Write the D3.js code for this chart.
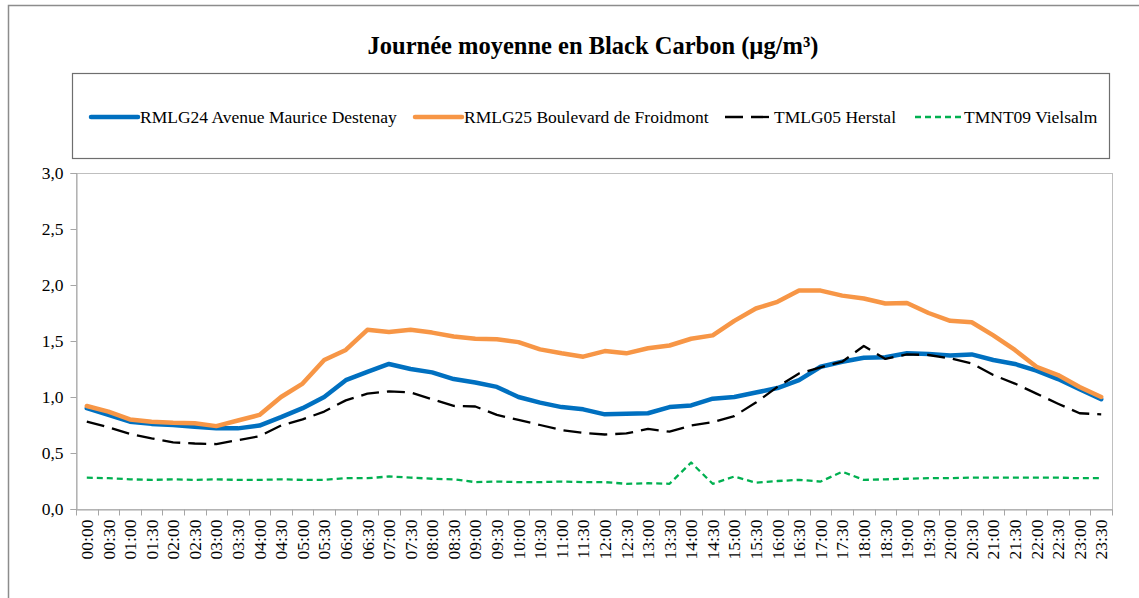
<!DOCTYPE html>
<meta charset="utf-8">
<style>
  body { margin: 0; background: #fff; }
  svg { display: block; }
  svg text { font-family: "Liberation Serif", "Times New Roman", serif; }
</style>
<body>
<div id="chart"></div>
<script src="https://cdn.jsdelivr.net/npm/d3@7"></script>
<script>
// half-hour slots
const times = ["00:00","00:30","01:00","01:30","02:00","02:30","03:00","03:30","04:00","04:30",
  "05:00","05:30","06:00","06:30","07:00","07:30","08:00","08:30","09:00","09:30",
  "10:00","10:30","11:00","11:30","12:00","12:30","13:00","13:30","14:00","14:30",
  "15:00","15:30","16:00","16:30","17:00","17:30","18:00","18:30","19:00","19:30",
  "20:00","20:30","21:00","21:30","22:00","22:30","23:00","23:30"];

const rmlg24 = [0.90,0.84,0.78,0.76,0.75,0.735,0.72,0.72,0.745,0.82,
  0.90,1.00,1.15,1.225,1.295,1.25,1.22,1.16,1.13,1.09,
  1.00,0.95,0.91,0.89,0.845,0.85,0.855,0.91,0.925,0.985,
  1.00,1.04,1.08,1.15,1.27,1.315,1.35,1.355,1.39,1.385,
  1.37,1.38,1.33,1.295,1.235,1.16,1.07,0.98];

const rmlg25 = [0.92,0.87,0.80,0.78,0.77,0.765,0.74,0.79,0.84,1.00,
  1.12,1.33,1.42,1.60,1.58,1.60,1.575,1.54,1.52,1.515,
  1.49,1.425,1.39,1.36,1.41,1.39,1.435,1.46,1.52,1.55,
  1.68,1.79,1.85,1.95,1.95,1.905,1.88,1.835,1.84,1.75,
  1.68,1.667,1.55,1.42,1.27,1.196,1.09,1.00];

const tmlg05 = [0.78,0.73,0.67,0.63,0.595,0.585,0.58,0.615,0.65,0.745,
  0.80,0.87,0.97,1.03,1.05,1.04,0.98,0.92,0.915,0.84,
  0.795,0.75,0.705,0.68,0.665,0.675,0.715,0.69,0.745,0.775,
  0.83,0.95,1.09,1.21,1.265,1.315,1.455,1.34,1.38,1.375,
  1.345,1.30,1.196,1.12,1.03,0.94,0.855,0.845];

const tmnt09 = [0.28,0.275,0.265,0.26,0.265,0.26,0.265,0.26,0.26,0.265,
  0.26,0.26,0.275,0.275,0.29,0.28,0.27,0.265,0.24,0.245,
  0.24,0.24,0.245,0.24,0.24,0.225,0.23,0.225,0.415,0.225,
  0.29,0.235,0.25,0.26,0.245,0.333,0.26,0.265,0.27,0.275,
  0.275,0.28,0.28,0.28,0.28,0.28,0.275,0.275];

const yTicks = [0, 0.5, 1, 1.5, 2, 2.5, 3];

const series = [
  {name: "RMLG24 Avenue Maurice Destenay", values: rmlg24, color: "#0070C0", width: 4.5, dash: null, lx: 91, lw: 47},
  {name: "RMLG25 Boulevard de Froidmont", values: rmlg25, color: "#F79646", width: 4.5, dash: null, lx: 415, lw: 47},
  {name: "TMLG05 Herstal", values: tmlg05, color: "#000000", width: 2.3, dash: "18,8", lx: 725, lw: 47},
  {name: "TMNT09 Vielsalm", values: tmnt09, color: "#00B050", width: 2.3, dash: "6,4", lx: 915, lw: 47}
];

const width = 1139, height = 598;
const plot = {left: 76, right: 1112, top: 173, bottom: 509};
const serif = "Liberation Serif, Times New Roman, serif";

const svg = d3.select("#chart").append("svg")
    .attr("width", width)
    .attr("height", height);

// outer chart frame (runs past the picture edges)
svg.append("rect")
    .attr("x", 8.5).attr("y", 5.5)
    .attr("width", 1300).attr("height", 800)
    .attr("fill", "none").attr("stroke", "#8c8c8c").attr("stroke-width", 1.5);

svg.append("text")
    .attr("x", 593).attr("y", 54)
    .attr("text-anchor", "middle")
    .attr("font-family", serif)
    .attr("font-size", 24.5)
    .attr("font-weight", "bold")
    .text("Journée moyenne en Black Carbon (µg/m³)");

// legend box
svg.append("rect")
    .attr("x", 72.5).attr("y", 73.5)
    .attr("width", 1037).attr("height", 85)
    .attr("fill", "none").attr("stroke", "#6e6e6e").attr("stroke-width", 1.2);

const leg = svg.append("g").selectAll("g")
  .data(series)
  .join("g");
leg.append("line")
    .attr("x1", d => d.lx).attr("x2", d => d.lx + d.lw)
    .attr("y1", 117).attr("y2", 117)
    .attr("stroke", d => d.color)
    .attr("stroke-width", d => d.width)
    .attr("stroke-dasharray", d => d.dash)
    .attr("stroke-linecap", d => d.dash ? "butt" : "round");
leg.append("text")
    .attr("x", d => d.lx + d.lw + 2).attr("y", 123)
    .attr("font-family", serif)
    .attr("font-size", 17.5)
    .text(d => d.name);

const x = d3.scaleBand().domain(times).range([plot.left, plot.right]).padding(0);
const y = d3.scaleLinear().domain([0, 3]).range([plot.bottom, plot.top]);

// plot area border
svg.append("rect")
    .attr("x", plot.left + 0.5).attr("y", plot.top + 0.5)
    .attr("width", plot.right - plot.left).attr("height", plot.bottom - plot.top)
    .attr("fill", "none").attr("stroke", "#bfbfbf");

const yAxis = svg.append("g")
    .attr("transform", `translate(${plot.left + 0.5},0)`)
    .call(d3.axisLeft(y).tickValues(yTicks).tickSize(6).tickPadding(7)
      .tickFormat(d => d.toFixed(1).replace(".", ",")));
yAxis.attr("font-family", serif);
yAxis.selectAll("path, line").attr("stroke", "#a6a6a6");
yAxis.selectAll("text").attr("font-size", 17.5).attr("fill", "#000");

const xAxis = svg.append("g")
    .attr("transform", `translate(0,${plot.bottom + 0.5})`)
    .call(d3.axisBottom(x).tickSize(0).tickPadding(0).tickSizeOuter(0));
xAxis.attr("font-family", serif);
xAxis.select(".domain").attr("stroke", "#a6a6a6");
xAxis.selectAll(".tick text")
    .attr("font-size", 17.5).attr("fill", "#000")
    .attr("text-anchor", "end")
    .attr("dy", "0.35em")
    .attr("transform", "translate(0,10) rotate(-90)")
    .attr("x", 0).attr("y", 0);
// tick marks on band boundaries
xAxis.append("g").selectAll("line")
  .data(times.concat([null]))
  .join("line")
    .attr("x1", (d, i) => Math.round(plot.left + i * x.step()) + 0.5)
    .attr("x2", (d, i) => Math.round(plot.left + i * x.step()) + 0.5)
    .attr("y1", 0).attr("y2", 6)
    .attr("stroke", "#a6a6a6");

const line = d3.line()
    .x((d, i) => x(times[i]) + x.bandwidth() / 2)
    .y(d => y(d));

svg.append("g").selectAll("path")
  .data(series)
  .join("path")
    .attr("d", d => line(d.values))
    .attr("fill", "none")
    .attr("stroke", d => d.color)
    .attr("stroke-width", d => d.width)
    .attr("stroke-dasharray", d => d.dash)
    .attr("stroke-linejoin", "round")
    .attr("stroke-linecap", d => d.dash ? "butt" : "round");
</script>
</body>
